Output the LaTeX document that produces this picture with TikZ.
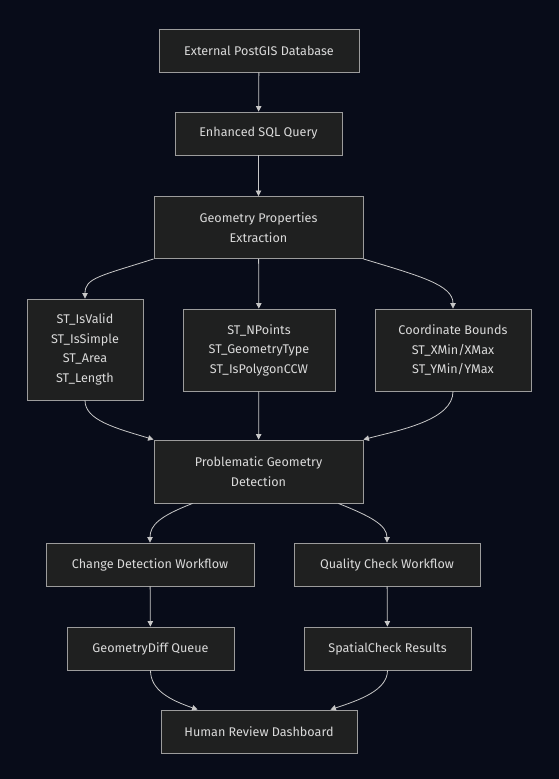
\documentclass[tikz,border=0pt]{standalone}
\usepackage{fontspec}
\setmainfont{Fira Sans}
\usetikzlibrary{arrows.meta,calc}
\definecolor{bgc}{HTML}{080C19}
\definecolor{boxfill}{HTML}{1F2020}
\definecolor{boxline}{HTML}{9C9C9C}
\definecolor{txt}{HTML}{DADADA}
\definecolor{edge}{HTML}{C8C8C8}
\tikzset{
  box/.style={draw=boxline, fill=boxfill, line width=0.9pt, text=txt, align=center,
    font=\fontsize{12.6}{19.5}\selectfont, inner sep=0pt},
  conn/.style={draw=edge, line width=0.8pt, -{Triangle[length=5.5pt,width=5.5pt]}},
}
\begin{document}
\begin{tikzpicture}[x=1pt,y=-1pt]
\fill[bgc] (0,0) rectangle (559,779);
\useasboundingbox (0,0) rectangle (559,779);

\node[box, minimum width=200pt, minimum height=43pt] (db) at (259,50.5) {External PostGIS Database};
\node[box, minimum width=167pt, minimum height=43pt] (sql) at (258.5,133.5) {Enhanced SQL Query};
\node[box, minimum width=209pt, minimum height=62pt] (geo) at (258.5,227.5) {Geometry Properties\\Extraction};
\node[box, minimum width=116pt, minimum height=101pt] (lft) at (85,349.5) {ST\_IsValid\\ST\_IsSimple\\ST\_Area\\ST\_Length};
\node[box, minimum width=152pt, minimum height=82pt] (mid) at (259,350) {ST\_NPoints\\ST\_GeometryType\\ST\_IsPolygonCCW};
\node[box, minimum width=156pt, minimum height=82pt] (rgt) at (453,350) {Coordinate Bounds\\ST\_XMin/XMax\\ST\_YMin/YMax};
\node[box, minimum width=209pt, minimum height=63pt] (prob) at (258.5,471.5) {Problematic Geometry\\Detection};
\node[box, minimum width=208pt, minimum height=43pt] (chg) at (150,564.5) {Change Detection Workflow};
\node[box, minimum width=186pt, minimum height=43pt] (qual) at (387,564.5) {Quality Check Workflow};
\node[box, minimum width=167pt, minimum height=43pt] (diff) at (150.5,648.5) {GeometryDiff Queue};
\node[box, minimum width=167pt, minimum height=43pt] (spat) at (387.5,648.5) {SpatialCheck Results};
\node[box, minimum width=196pt, minimum height=43pt] (hum) at (259,731.5) {Human Review Dashboard};

\draw[conn] (db) -- (sql);
\draw[conn] (sql) -- (geo);
\draw[conn] (geo.south west) .. controls (100,276) and (85,278) .. (lft.north);
\draw[conn] (geo) -- (mid);
\draw[conn] (geo.south east) .. controls (420,276) and (453,285) .. (rgt.north);
\draw[conn] (lft.south) .. controls (85,420) and (115,428) .. (prob.north west);
\draw[conn] (mid) -- (prob);
\draw[conn] (rgt.south) .. controls (453,420) and (400,430) .. (prob.north east);
\draw[conn] ([xshift=39pt]prob.south west) .. controls (160,516) and (150,525) .. (chg.north);
\draw[conn] ([xshift=-25pt]prob.south east) .. controls (370,516) and (387,525) .. (qual.north);
\draw[conn] (chg) -- (diff);
\draw[conn] (qual) -- (spat);
\draw[conn] (diff.south) .. controls (150.5,690) and (170,700) .. ([xshift=37pt]hum.north west);
\draw[conn] (spat.south) .. controls (387.5,690) and (360,700) .. ([xshift=-27pt]hum.north east);
\end{tikzpicture}
\end{document}
